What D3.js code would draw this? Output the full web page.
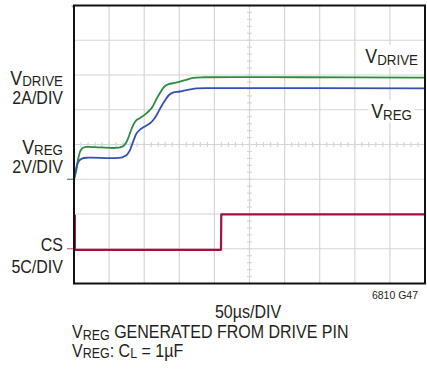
<!DOCTYPE html>
<html>
<head>
<meta charset="utf-8">
<script src="https://cdn.jsdelivr.net/npm/d3@7"></script>
<style>
  html, body { margin: 0; padding: 0; background: #fff; }
  svg { display: block; }
  text { font-family: "Liberation Sans Narrow", "Liberation Sans", Arial, sans-serif; fill: #231f20; }
</style>
</head>
<body>
<svg id="chart" width="427" height="373"></svg>
<script>
// Time base: 50 µs per division, 10 divisions
const timeTicks = [0, 50, 100, 150, 200, 250, 300, 350, 400, 450, 500];
const divisions = [0, 1, 2, 3, 4, 5, 6, 7, 8];

// VDRIVE trace (2A/DIV, ground at division 3)
const driveTime  = [0, 2.8, 5.7, 8.5, 11.4, 17.1, 37, 58.4, 65.5, 71.2, 75.5, 79.8, 84, 88.3, 94, 102.6, 108.3, 112.5, 117.5, 122.5, 128.2, 133.9, 145.3, 155.3, 169.5, 186.6, 322, 500];
const driveValue = [0, 0.42, 1.11, 1.57, 1.77, 1.86, 1.83, 1.80, 1.83, 1.94, 2.20, 2.66, 3.09, 3.38, 3.52, 3.78, 3.99, 4.22, 4.62, 4.96, 5.31, 5.46, 5.56, 5.67, 5.83, 5.87, 5.87, 5.85];

// VREG trace (2V/DIV, ground at division 3)
const regTime  = [0, 2.1, 4.3, 7.1, 11.4, 19.9, 51.3, 67, 71.2, 75.5, 79.8, 84, 89, 94, 99.7, 108.3, 114, 118.2, 123.9, 129.6, 135.3, 141, 151, 165.2, 175.2, 193.7, 500];
const regValue = [0, 0.42, 0.82, 1.05, 1.19, 1.24, 1.22, 1.24, 1.31, 1.42, 1.68, 2.14, 2.63, 2.86, 3.01, 3.22, 3.47, 3.73, 4.16, 4.53, 4.85, 4.99, 5.05, 5.17, 5.23, 5.25, 5.23];

// CS trace (5C/DIV, ground at division 1)
const csTime  = [1.2, 1.2, 209.4, 209.8, 500];
const csValue = [4.9, -0.15, -0.15, 4.95, 4.95];

const channels = [
  { name: "VDRIVE", time: driveTime, value: driveValue, perDiv: 2, ground: 3, color: "#2e8b3f", width: 1.8 },
  { name: "VREG",   time: regTime,   value: regValue,   perDiv: 2, ground: 3, color: "#3352b0", width: 1.8 },
  { name: "CS",     time: csTime,    value: csValue,    perDiv: 5, ground: 1, color: "#a3123d", width: 2.2 }
];

const svg = d3.select("#chart");
const L = 74, R = 425, T = 5.5, B = 283.5;
const SX = 0.89; // horizontal condensing of the typeface

const x = d3.scaleLinear().domain([0, 500]).range([L, R]);
const yDiv = d3.scaleLinear().domain([0, 8]).range([B, T]);

// Graticule
const grid = svg.append("g").attr("stroke", "#d6d6d6").attr("stroke-width", 1.2);
grid.selectAll("line.v").data(timeTicks.slice(1, -1)).join("line")
  .attr("x1", d => x(d)).attr("x2", d => x(d)).attr("y1", T).attr("y2", B);
grid.selectAll("line.h").data(divisions.slice(1, -1)).join("line")
  .attr("class", "h")
  .attr("x1", L).attr("x2", R).attr("y1", d => yDiv(d)).attr("y2", d => yDiv(d));

// Minor ticks along the centre crosshair (5 per division)
const minorT = d3.range(0, 500.01, 10);
const minorD = d3.range(0, 8.01, 0.2);
grid.selectAll("line.mt").data(minorT).join("line").attr("class", "mt")
  .attr("x1", d => x(d)).attr("x2", d => x(d))
  .attr("y1", yDiv(4) - 2.5).attr("y2", yDiv(4) + 2.5);
grid.selectAll("line.md").data(minorD).join("line").attr("class", "md")
  .attr("x1", x(250) - 2.5).attr("x2", x(250) + 2.5)
  .attr("y1", d => yDiv(d)).attr("y2", d => yDiv(d));

// Traces
const traces = svg.append("g");
channels.forEach(ch => {
  const pts = ch.time.map((t, i) => [t, ch.value[i]]);
  const line = d3.line()
    .x(d => x(d[0]))
    .y(d => yDiv(ch.ground + d[1] / ch.perDiv))
    .curve(ch.name === "CS" ? d3.curveLinear : d3.curveCatmullRom.alpha(0.5));
  traces.append("path")
    .attr("d", line(pts))
    .attr("fill", "none")
    .attr("stroke", ch.color)
    .attr("stroke-width", ch.width)
    .attr("stroke-linejoin", "round");
});

// Ground markers on the left edge
svg.append("line").attr("x1", L - 7).attr("x2", L - 1)
  .attr("y1", yDiv(3)).attr("y2", yDiv(3))
  .attr("stroke", "#3f9070").attr("stroke-width", 1.2);
svg.append("line").attr("x1", L - 7).attr("x2", L - 1)
  .attr("y1", yDiv(1)).attr("y2", yDiv(1))
  .attr("stroke", "#c46a82").attr("stroke-width", 1.2);

// Trigger marker at the top-left corner
svg.append("path")
  .attr("d", `M${L - 3},${T} L${L + 2},${T} L${L - 0.5},${T + 3} Z`)
  .attr("fill", "#a0a0a0");

// Frame
svg.append("rect")
  .attr("x", L).attr("y", T).attr("width", R - L).attr("height", B - T)
  .attr("fill", "none").attr("stroke", "#111").attr("stroke-width", 2);

// Text helper: condensed text with optional subscripts
function label(parent, px, py, parts, anchor, sx) {
  const g = parent.append("g").attr("transform", `translate(${px},${py}) scale(${sx || SX},1)`);
  const t = g.append("text").attr("x", 0).attr("y", 0).attr("text-anchor", anchor || "start");
  parts.forEach(p => {
    const s = t.append("tspan").text(p.text).style("font-size", (p.size || 18) + "px");
    if (p.dy) s.attr("dy", p.dy);
  });
  return { g, t };
}

const labels = svg.append("g");

// Left channel labels
label(labels, 63, 85, [{ text: "V", size: 20 }, { text: "DRIVE", size: 15, dy: 1 }], "end");
label(labels, 63, 104, [{ text: "2A/DIV" }], "end");
label(labels, 63, 153.5, [{ text: "V", size: 20 }, { text: "REG", size: 15, dy: 1 }], "end");
label(labels, 63, 173, [{ text: "2V/DIV" }], "end");
label(labels, 63, 250.5, [{ text: "CS" }], "end");
label(labels, 63, 272.5, [{ text: "5C/DIV" }], "end");

// Right trace labels on white backing
function boxedLabel(px, py, parts) {
  const { g, t } = label(svg, px, py, parts, "end");
  const bb = t.node().getBBox();
  g.insert("rect", "text")
    .attr("x", bb.x - 3).attr("y", bb.y).attr("width", bb.width + 6).attr("height", bb.height)
    .attr("fill", "#fff");
}
boxedLabel(418, 63, [{ text: "V", size: 20 }, { text: "DRIVE", size: 15, dy: 1.5 }]);
boxedLabel(412, 118, [{ text: "V", size: 20 }, { text: "REG", size: 15, dy: 1.5 }]);

// Bottom annotations
label(labels, 248, 318, [{ text: "50µs/DIV" }], "middle");
label(labels, 418, 298.5, [{ text: "6810 G47", size: 10.5 }], "end", 1);
label(labels, 72, 338, [{ text: "V", size: 18 }, { text: "REG", size: 14, dy: 1.5 }, { text: " GENERATED FROM DRIVE PIN", dy: -1.5 }]);
label(labels, 72, 356.5, [{ text: "V", size: 18 }, { text: "REG", size: 14, dy: 1.5 }, { text: ": C", dy: -1.5 }, { text: "L", size: 14, dy: 1.5 }, { text: " = 1µF", dy: -1.5 }]);
</script>
</body>
</html>
